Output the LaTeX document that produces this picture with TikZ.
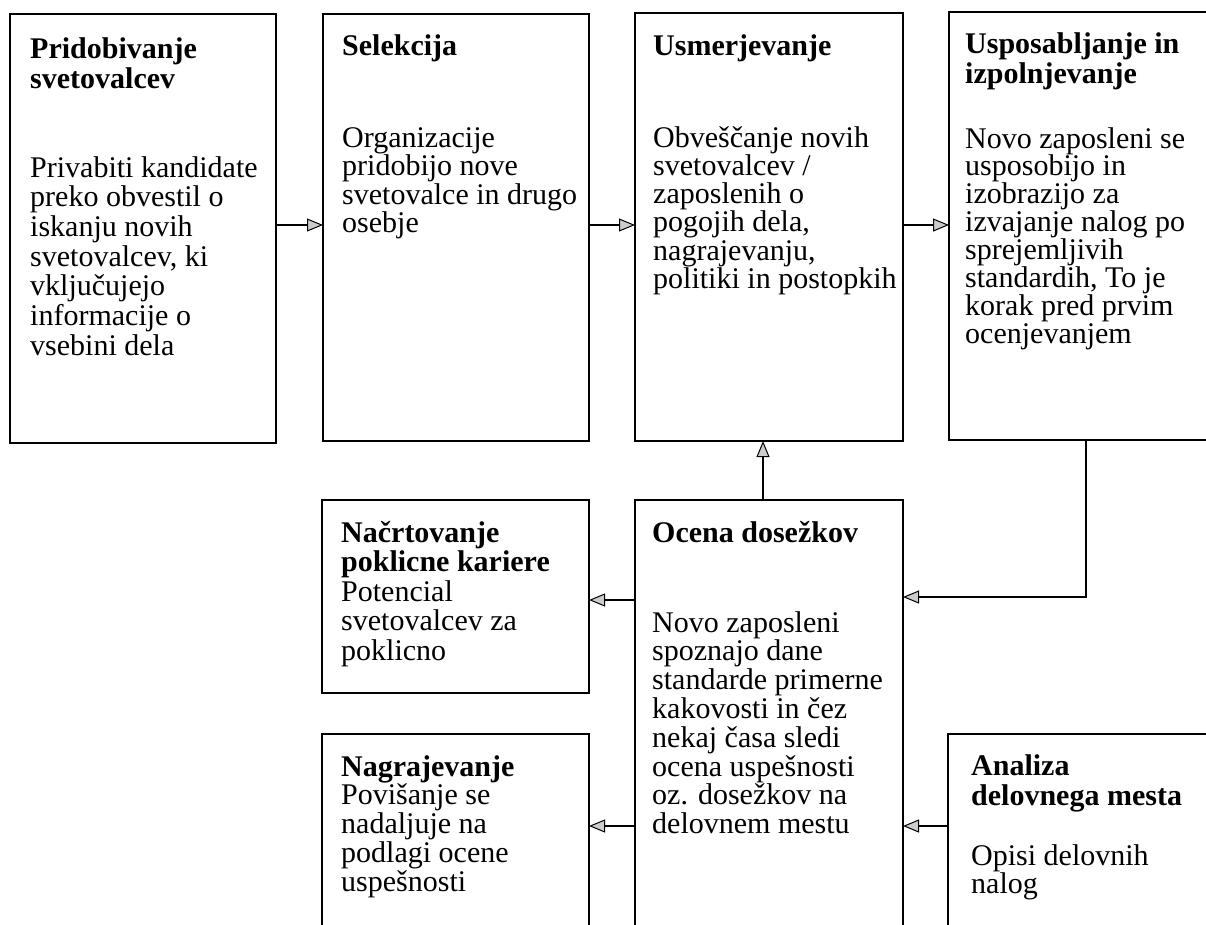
\documentclass[tikz,border=0pt]{standalone}
\usepackage{fontspec}
\setmainfont{Liberation Serif}
\usetikzlibrary{arrows.meta}
\newcommand{\tb}[2]{\parbox[t]{300pt}{\fontsize{30}{#1}\selectfont #2}}
\begin{document}
\begin{tikzpicture}[x=1pt,y=-1pt,
  box/.style={draw, line width=2.3pt, anchor=north west, inner sep=0pt, outer sep=0pt},
  conn/.style={line width=1.8pt, -{Triangle[length=16pt,width=13pt,fill=gray!40,line width=1pt]}},
  txt/.style={anchor=base west, inner sep=0pt}]
\useasboundingbox (0,0) rectangle (1206,924);
\clip (0,0) rectangle (1206,924);
% boxes
\node[box, minimum width=266pt, minimum height=429pt] (b1) at (10,14) {};
\node[box, minimum width=266pt, minimum height=427pt] (b2) at (323,14) {};
\node[box, minimum width=268pt, minimum height=428pt] (b3) at (635,13) {};
\node[box, minimum width=270pt, minimum height=428pt] (b4) at (949,12) {};
\node[box, minimum width=267pt, minimum height=193pt] (b5) at (322,500) {};
\node[box, minimum width=268pt, minimum height=440pt] (b6) at (635,500) {};
\node[box, minimum width=267pt, minimum height=206pt] (b7) at (322,734) {};
\node[box, minimum width=270pt, minimum height=206pt] (b8) at (948,734) {};
% texts
\node[txt] (t1a) at (30,58) {\tb{30}{\bfseries Pridobivanje\\svetovalcev}};
\node[txt] (t1b) at (30,177) {\tb{29.7}{Privabiti kandidate\\preko obvestil o\\iskanju novih\\svetovalcev, ki\\vključujejo\\informacije o\\vsebini dela}};
\node[txt] (t2a) at (342,55) {\tb{30}{\bfseries Selekcija}};
\node[txt] (t2b) at (342,147) {\tb{28.5}{Organizacije\\pridobijo nove\\svetovalce in drugo\\osebje}};
\node[txt] (t3a) at (653,55) {\tb{30}{\bfseries Usmerjevanje}};
\node[txt] (t3b) at (653,147) {\tb{28.3}{Obveščanje novih\\svetovalcev /\\zaposlenih o\\pogojih dela,\\nagrajevanju,\\politiki in postopkih}};
\node[txt] (t4a) at (965,53) {\tb{30}{\bfseries Usposabljanje in\\izpolnjevanje}};
\node[txt] (t4b) at (965,148) {\tb{27.9}{Novo zaposleni se\\usposobijo in\\izobrazijo za\\izvajanje nalog po\\sprejemljivih\\standardih, To je\\korak pred prvim\\ocenjevanjem}};
\node[txt] (t5) at (341,542) {\tb{29.5}{{\bfseries Načrtovanje\\poklicne kariere}\\Potencial\\svetovalcev za\\poklicno}};
\node[txt] (t6a) at (652,542) {\tb{30}{\bfseries Ocena dosežkov}};
\node[txt] (t6b) at (652,632) {\tb{28.8}{Novo zaposleni\\spoznajo dane\\standarde primerne\\kakovosti in čez\\nekaj časa sledi\\ocena uspešnosti\\oz. dosežkov na\\delovnem mestu}};
\node[txt] (t7) at (341,776) {\tb{28.8}{{\bfseries Nagrajevanje}\\Povišanje se\\nadaljuje na\\podlagi ocene\\uspešnosti}};
\node[txt] (t8a) at (971,775) {\tb{30}{\bfseries Analiza\\delovnega mesta}};
\node[txt] (t8b) at (971,865) {\tb{28.5}{Opisi delovnih\\nalog}};
% helper coordinates
\coordinate (rowy) at (0,225);
\coordinate (upx) at (763,0);
\coordinate (k1) at (1086,597);
\coordinate (y5) at (0,600);
\coordinate (y7) at (0,826);
% connectors
\draw[conn] (b1.east |- rowy) -- (b2.west |- rowy);
\draw[conn] (b2.east |- rowy) -- (b3.west |- rowy);
\draw[conn] (b3.east |- rowy) -- (b4.west |- rowy);
\draw[conn] (b6.north -| upx) -- (b3.south -| upx);
\draw[conn] (b4.south -| k1) -- (k1) -- (b6.east |- k1);
\draw[conn] (b6.west |- y5) -- (b5.east |- y5);
\draw[conn] (b6.west |- y7) -- (b7.east |- y7);
\draw[conn] (b8.west |- y7) -- (b6.east |- y7);
\end{tikzpicture}
\end{document}
